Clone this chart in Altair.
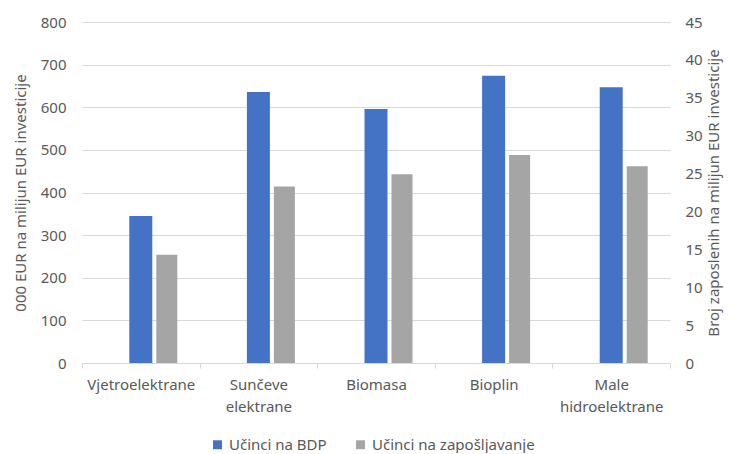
import altair as alt
import pandas as pd

categories = ["Vjetroelektrane", "Sunčeve elektrane", "Biomasa", "Bioplin", "Male hidroelektrane"]
bdp = [345, 636, 596, 674, 647]
zaposlenost = [14.3, 23.3, 24.9, 27.45, 25.95]
series = ["Učinci na BDP", "Učinci na zapošljavanje"]
left_ticks = [0, 100, 200, 300, 400, 500, 600, 700, 800]
right_ticks = [0, 5, 10, 15, 20, 25, 30, 35, 40, 45]

df1 = pd.DataFrame({"cat": categories, "val": bdp, "series": series[0]})
df2 = pd.DataFrame({"cat": categories, "val": zaposlenost, "series": series[1]})

FONT = "Noto Sans"
TXT = "#595959"
GRID = "#D9D9D9"

color_scale = alt.Scale(domain=series, range=["#4472C4", "#A5A5A5"])
legend = alt.Legend(
    title=None, orient="none", direction="horizontal", legendX=128, legendY=415,
    symbolType="square", symbolSize=80, symbolStrokeWidth=0, labelFontSize=15,
    labelColor=TXT, labelFont=FONT, columnPadding=26, labelOffset=4, labelLimit=400,
)

x = alt.X(
    "cat:N", sort=categories, title=None,
    scale=alt.Scale(paddingInner=0, paddingOuter=0),
    axis=alt.Axis(
        labelAngle=0, labelExpr="split(datum.label, ' ')", tickBand="extent",
        domainColor=GRID, tickColor=GRID, tickSize=5, labelPadding=9,
        labelFontSize=15, labelColor=TXT, labelFont=FONT, labelLineHeight=22,
        grid=False,
    ),
)

blue = alt.Chart(df1).mark_bar(size=23).encode(
    x=x,
    y=alt.Y(
        "val:Q", scale=alt.Scale(domain=[0, 800], nice=False),
        axis=alt.Axis(
            values=left_ticks, title="000 EUR na milijun EUR investicije",
            grid=True, gridColor=GRID, domain=False, ticks=False, labelPadding=16,
            labelFontSize=15, labelColor=TXT, labelFont=FONT,
            titleFontSize=15, titleColor=TXT, titleFont=FONT, titleFontWeight="normal",
            titlePadding=12,
        ),
    ),
    color=alt.Color("series:N", scale=color_scale, legend=legend),
)

gray = alt.Chart(df2).mark_bar(size=21, xOffset=26).encode(
    x=x,
    y=alt.Y(
        "val:Q", scale=alt.Scale(domain=[0, 45], nice=False),
        axis=alt.Axis(
            orient="right", values=right_ticks,
            title="Broj zaposlenih na milijun EUR investicije",
            grid=False, domain=False, ticks=False, labelPadding=15,
            labelFontSize=15, labelColor=TXT, labelFont=FONT,
            titleFontSize=15, titleColor=TXT, titleFont=FONT, titleFontWeight="normal",
            titleAngle=270, titlePadding=19,
        ),
    ),
    color=alt.Color("series:N", scale=color_scale, legend=legend),
)

chart = (
    alt.layer(blue, gray)
    .resolve_scale(y="independent")
    .properties(
        width=588, height=341,
        autosize=alt.AutoSizeParams(type="none"),
        padding={"left": 74, "top": 14, "right": 54, "bottom": 90},
    )
    .configure_view(stroke=None)
)

chart.save("out.html", embed_options={"renderer": "svg", "actions": False})
